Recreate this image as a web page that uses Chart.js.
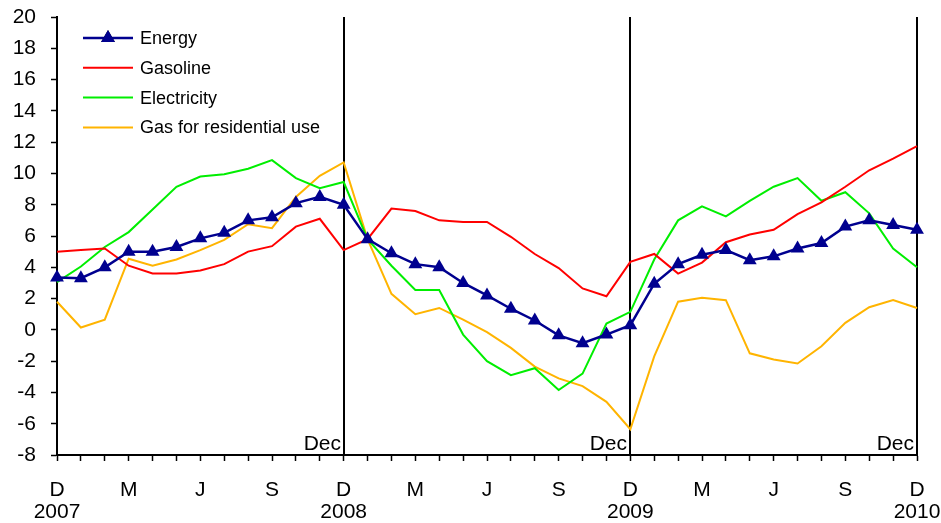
<!DOCTYPE html>
<html>
<head>
<meta charset="utf-8">
<script src="https://cdn.jsdelivr.net/npm/chart.js@4.4.1/dist/chart.umd.min.js"></script>
<style>
  html, body { margin: 0; padding: 0; background: #ffffff; }
  #wrap { width: 941px; height: 523px; position: relative; }
</style>
</head>
<body>
<div id="wrap"><canvas id="chart" width="941" height="523"></canvas></div>
<script>
// Monthly observations, Dec 2007 – Dec 2010 (annual % change)
const months = [
  '2007-12',
  '2008-01','2008-02','2008-03','2008-04','2008-05','2008-06','2008-07','2008-08','2008-09','2008-10','2008-11','2008-12',
  '2009-01','2009-02','2009-03','2009-04','2009-05','2009-06','2009-07','2009-08','2009-09','2009-10','2009-11','2009-12',
  '2010-01','2010-02','2010-03','2010-04','2010-05','2010-06','2010-07','2010-08','2010-09','2010-10','2010-11','2010-12'
];

const energy = [3.35, 3.3, 4.0, 5.0, 5.0, 5.3, 5.85, 6.2, 7.0, 7.2, 8.1, 8.5, 8.0,
  5.8, 4.9, 4.2, 4.0, 3.0, 2.2, 1.35, 0.6, -0.35, -0.85, -0.3, 0.3,
  2.95, 4.2, 4.8, 5.1, 4.45, 4.7, 5.2, 5.55, 6.6, 7.0, 6.7, 6.4];

const gasoline = [5.0, 5.1, 5.2, 4.1, 3.6, 3.6, 3.8, 4.2, 5.0, 5.35, 6.6, 7.1, 5.1,
  5.8, 7.75, 7.6, 7.0, 6.9, 6.9, 5.95, 4.85, 3.95, 2.65, 2.15, 4.35,
  4.85, 3.6, 4.3, 5.6, 6.1, 6.4, 7.4, 8.15, 9.15, 10.2, 10.95, 11.75];

const electricity = [3.05, 4.05, 5.3, 6.25, 7.7, 9.15, 9.8, 9.95, 10.3, 10.85, 9.7, 9.05, 9.45,
  5.8, 4.1, 2.55, 2.55, -0.3, -2.0, -2.9, -2.45, -3.85, -2.8, 0.4, 1.15,
  4.5, 7.0, 7.9, 7.25, 8.25, 9.15, 9.7, 8.25, 8.8, 7.45, 5.2, 4.0];

const residentialGas = [1.8, 0.15, 0.65, 4.55, 4.1, 4.5, 5.1, 5.75, 6.75, 6.5, 8.5, 9.85, 10.7,
  5.8, 2.3, 1.0, 1.4, 0.65, -0.15, -1.15, -2.35, -3.1, -3.6, -4.6, -6.35,
  -1.7, 1.8, 2.05, 1.9, -1.5, -1.9, -2.15, -1.05, 0.45, 1.45, 1.9, 1.4];

// Axis labels
const quarterInitials = ['D', 'M', 'J', 'S'];
const years = ['2007', '2008', '2009', '2010'];
const yearEndMarks = ['2008-12', '2009-12', '2010-12'];
const yearEndLabel = 'Dec';

const FONT = "'Liberation Sans', Arial, sans-serif";

// Vertical year-end rules with their "Dec" captions, drawn beneath the series
const yearEndRules = {
  id: 'yearEndRules',
  beforeDatasetsDraw(chart) {
    const { ctx, chartArea, scales } = chart;
    ctx.save();
    ctx.strokeStyle = '#000000';
    ctx.lineWidth = 2;
    ctx.fillStyle = '#000000';
    ctx.font = '21px ' + FONT;
    ctx.textAlign = 'right';
    ctx.textBaseline = 'alphabetic';
    yearEndMarks.forEach(m => {
      const x = Math.round(scales.x.getPixelForValue(months.indexOf(m)));
      ctx.beginPath();
      ctx.moveTo(x, chartArea.top);
      ctx.lineTo(x, chartArea.bottom);
      ctx.stroke();
      ctx.fillText(yearEndLabel, x - 3, chartArea.bottom - 5);
    });
    ctx.restore();
  }
};

// Legend box in the upper-left corner of the plot
const insideLegend = {
  id: 'insideLegend',
  afterDraw(chart) {
    const { ctx } = chart;
    const x0 = 83, x1 = 133, tx = 140, y0 = 38, dy = 29.8;
    ctx.save();
    ctx.font = '18px ' + FONT;
    ctx.textAlign = 'left';
    ctx.textBaseline = 'middle';
    chart.data.datasets.forEach((ds, i) => {
      const y = y0 + i * dy;
      ctx.strokeStyle = ds.borderColor;
      ctx.lineWidth = ds.borderWidth;
      ctx.beginPath();
      ctx.moveTo(x0, y);
      ctx.lineTo(x1, y);
      ctx.stroke();
      if (ds.pointRadius > 0) {
        Chart.helpers.drawPoint(ctx, {
          pointStyle: ds.pointStyle, radius: ds.pointRadius, borderWidth: 0, rotation: 0
        }, (x0 + x1) / 2, y);
        ctx.fillStyle = ds.pointBackgroundColor;
        ctx.fill();
      }
      ctx.fillStyle = '#000000';
      ctx.fillText(ds.label, tx, y + 1);
    });
    ctx.restore();
  }
};

new Chart(document.getElementById('chart'), {
  type: 'line',
  data: {
    labels: months,
    datasets: [
      {
        label: 'Energy', data: energy,
        borderColor: '#00008f', borderWidth: 2.5,
        pointStyle: 'triangle', pointRadius: 8, pointBorderWidth: 0,
        pointBackgroundColor: '#00008f', pointBorderColor: '#00008f'
      },
      {
        label: 'Gasoline', data: gasoline,
        borderColor: '#ff0000', borderWidth: 2, pointRadius: 0
      },
      {
        label: 'Electricity', data: electricity,
        borderColor: '#00ee00', borderWidth: 2, pointRadius: 0
      },
      {
        label: 'Gas for residential use', data: residentialGas,
        borderColor: '#ffb400', borderWidth: 2, pointRadius: 0
      }
    ]
  },
  options: {
    responsive: false,
    animation: false,
    devicePixelRatio: 1,
    layout: { padding: { top: 17, right: 24, left: 0, bottom: 0 } },
    elements: { line: { tension: 0 } },
    plugins: { legend: { display: false }, tooltip: { enabled: false }, title: { display: false } },
    scales: {
      x: {
        type: 'category',
        offset: false,
        grid: {
          display: true, drawOnChartArea: false, drawTicks: true,
          tickLength: 6, tickColor: '#000000', tickWidth: 1.5, offset: false
        },
        border: { display: true, color: '#000000', width: 2 },
        ticks: {
          autoSkip: false, maxRotation: 0, minRotation: 0,
          color: '#000000', padding: 18,
          font: { family: FONT, size: 21, lineHeight: 1.05 },
          callback: (v, i) => {
            if (i % 12 === 0) return [quarterInitials[0], years[i / 12]];
            if (i % 3 === 0) return quarterInitials[(i % 12) / 3];
            return '';
          }
        },
        afterFit: s => { s.height = 68; s.paddingLeft = 0; s.paddingRight = 0; }
      },
      y: {
        min: -8, max: 20,
        grid: {
          display: true, drawOnChartArea: false, drawTicks: true,
          tickLength: 6, tickColor: '#000000', tickWidth: 1.5
        },
        border: { display: true, color: '#000000', width: 2 },
        ticks: {
          stepSize: 2, color: '#000000', padding: 15,
          font: { family: FONT, size: 21 }
        },
        afterFit: s => { s.width = 57; s.paddingTop = 0; s.paddingBottom = 0; }
      }
    }
  },
  plugins: [yearEndRules, insideLegend]
});
</script>
</body>
</html>
